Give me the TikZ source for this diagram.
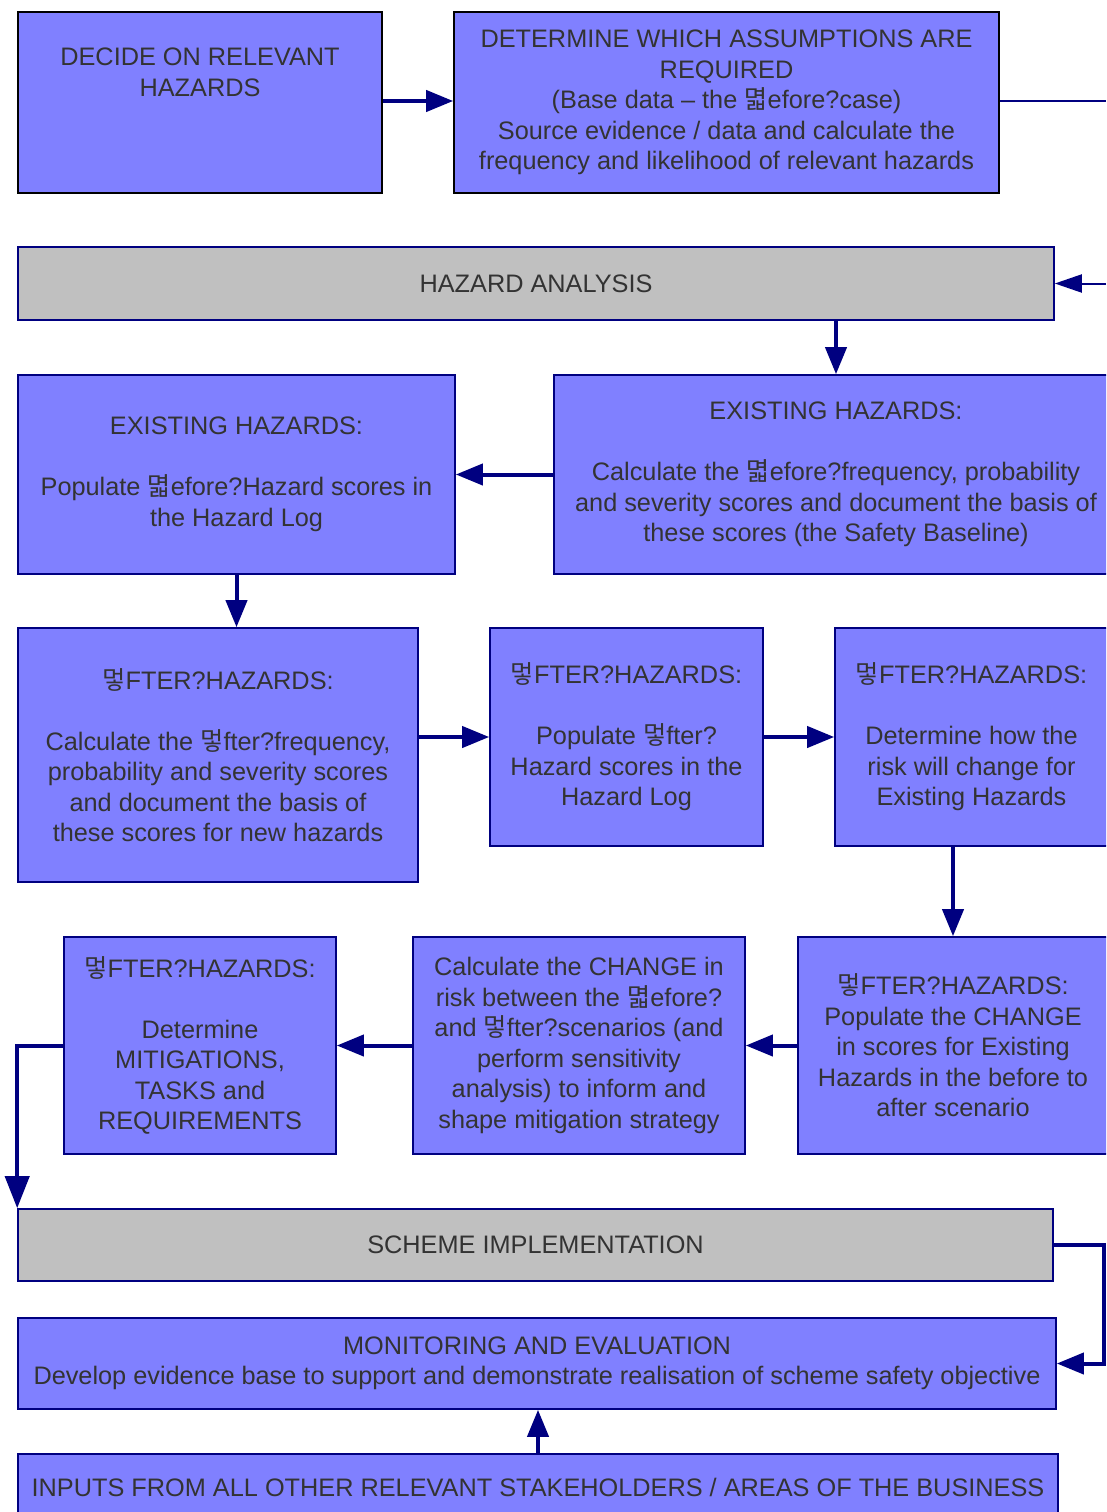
\documentclass[tikz,border=0pt]{standalone}
\usepackage{fontspec}
\setmainfont{Liberation Sans}
\newfontfamily\krfont{Noto Sans CJK KR}
\usetikzlibrary{arrows.meta}
\definecolor{boxblue}{HTML}{8080FF}
\definecolor{bargrey}{HTML}{C0C0C0}
\definecolor{navy}{HTML}{000080}
\definecolor{inkgrey}{HTML}{333333}
% garbled quote glyphs as they are printed
\newcommand{\gA}{{\krfont 멓}}
\newcommand{\gB}{{\krfont 멻}}
\tikzset{
  base/.style={rectangle, draw=navy, line width=1.6pt, inner sep=0pt, align=center,
    text=inkgrey, font=\fontsize{25.3}{30.5}\selectfont},
  bluebox/.style={base, fill=boxblue},
  darkbox/.style={base, fill=boxblue, draw=black},
  greybar/.style={base, fill=bargrey},
  arr/.style={draw=navy, line width=4pt, -{Triangle[length=27pt,width=21pt]}},
  thinarr/.style={draw=navy, line width=2pt, -{Triangle[length=27pt,width=18pt]}},
  bigarr/.style={draw=navy, line width=4pt, -{Triangle[length=32pt,width=24pt]}},
  thinline/.style={draw=navy, line width=2pt},
}
\begin{document}
\begin{tikzpicture}[x=1pt,y=-1pt]
\useasboundingbox (0,0) rectangle (1106,1512);
\clip (0,0) rectangle (1106,1512);

\node[darkbox, minimum width=364pt, minimum height=181pt] (b1) at (200,102.5)
  {DECIDE ON RELEVANT\\HAZARDS\\~\\~};
\node[darkbox, minimum width=545pt, minimum height=181pt] (b2) at (726.5,102.5)
  {DETERMINE WHICH ASSUMPTIONS ARE\\REQUIRED\\(Base data -- the \gB efore?case)\\Source evidence / data and calculate the\\frequency and likelihood of relevant hazards};

\node[greybar, minimum width=1036pt, minimum height=73pt] (ha) at (536,283.5) {HAZARD ANALYSIS};

\node[bluebox, minimum width=437pt, minimum height=199pt] (b3) at (236.5,474.5)
  {EXISTING HAZARDS:\\~\\Populate \gB efore?Hazard scores in\\the Hazard Log};
\node[bluebox, minimum width=564pt, minimum height=199pt] (b4) at (836,474.5)
  {EXISTING HAZARDS:\\~\\Calculate the \gB efore?frequency, probability\\and severity scores and document the basis of\\these scores (the Safety Baseline)};

\node[bluebox, minimum width=400pt, minimum height=254pt] (b5) at (218,755)
  {\gA FTER?HAZARDS:\\~\\Calculate the \gA fter?frequency,\\probability and severity scores\\and document the basis of\\these scores for new hazards};
\node[bluebox, minimum width=273pt, minimum height=218pt] (b6) at (626.5,737)
  {\gA FTER?HAZARDS:\\~\\Populate \gA fter?\\Hazard scores in the\\Hazard Log};
\node[bluebox, minimum width=273pt, minimum height=218pt] (b7) at (971.5,737)
  {\gA FTER?HAZARDS:\\~\\Determine how the\\risk will change for\\Existing Hazards};

\node[bluebox, minimum width=310pt, minimum height=217pt] (b8) at (953,1045.5)
  {\gA FTER?HAZARDS:\\Populate the CHANGE\\in scores for Existing\\Hazards in the before to\\after scenario};
\node[bluebox, minimum width=332pt, minimum height=217pt] (b9) at (579,1045.5)
  {Calculate the CHANGE in\\risk between the \gB efore?\\and \gA fter?scenarios (and\\perform sensitivity\\analysis) to inform and\\shape mitigation strategy};
\node[bluebox, minimum width=272pt, minimum height=217pt] (b10) at (200,1045.5)
  {\gA FTER?HAZARDS:\\~\\Determine\\MITIGATIONS,\\TASKS and\\REQUIREMENTS};

\node[greybar, minimum width=1035pt, minimum height=72pt] (si) at (535.5,1245) {SCHEME IMPLEMENTATION};
\node[bluebox, minimum width=1038pt, minimum height=91pt] (me) at (537,1363.5)
  {MONITORING AND EVALUATION\\Develop evidence base to support and demonstrate realisation of scheme safety objective};
\node[bluebox, minimum width=1040pt, minimum height=66pt] (in) at (538,1487)
  {INPUTS FROM ALL OTHER RELEVANT STAKEHOLDERS / AREAS OF THE BUSINESS};

% connectors
\coordinate (outA) at (1106,101);
\coordinate (outB) at (1106,283.5);
\coordinate (loopR) at (1104,1245);

\draw[arr] (b1.east |- 0,101) -- (b2.west |- 0,101);
\draw[thinline] (b2.east |- outA) -- (outA);
\draw[thinarr] (outB) -- (ha.east);
\draw[arr] (b4.north |- ha.south) -- (b4.north);
\draw[arr] (b4.west) -- (b3.east);
\draw[arr] (b3.south) -- (b3.south |- b5.north);
\draw[arr] (b5.east |- b6.west) -- (b6.west);
\draw[arr] (b6.east) -- (b7.west);
\draw[arr] (b8.north |- b7.south) -- (b8.north);
\draw[arr] (b8.west) -- (b9.east);
\draw[arr] (b9.west) -- (b10.east);
\draw[bigarr] (b10.west) -- (si.north west |- b10.west) -- (si.north west);
\draw[arr] (si.east) -- (loopR) -- (loopR |- me.east) -- (me.east);
\draw[arr] (in.north) -- (in.north |- me.south);
\end{tikzpicture}
\end{document}
